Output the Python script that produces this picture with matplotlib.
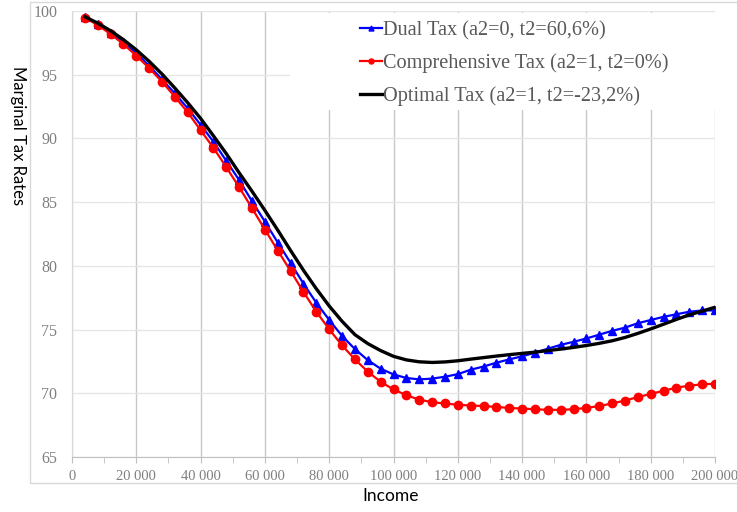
import matplotlib
matplotlib.use("Agg")
import matplotlib.pyplot as plt
from matplotlib.patches import Rectangle
from matplotlib.ticker import FuncFormatter, MultipleLocator

income = [4000, 8000, 12000, 16000, 20000, 24000, 28000, 32000, 36000, 40000,
          44000, 48000, 52000, 56000, 60000, 64000, 68000, 72000, 76000, 80000,
          84000, 88000, 92000, 96000, 100000, 104000, 108000, 112000, 116000, 120000,
          124000, 128000, 132000, 136000, 140000, 144000, 148000, 152000, 156000, 160000,
          164000, 168000, 172000, 176000, 180000, 184000, 188000, 192000, 196000, 200000]

dual_tax = [99.55, 98.98, 98.30, 97.54, 96.70, 95.70, 94.63, 93.53, 92.36, 91.07,
            89.74, 88.24, 86.73, 85.07, 83.47, 81.83, 80.23, 78.60, 77.10, 75.76,
            74.50, 73.47, 72.60, 71.93, 71.48, 71.20, 71.09, 71.15, 71.30, 71.50,
            71.85, 72.10, 72.40, 72.66, 72.90, 73.18, 73.50, 73.80, 74.04, 74.30,
            74.60, 74.90, 75.15, 75.50, 75.75, 76.00, 76.20, 76.40, 76.50, 76.50]

comprehensive_tax = [99.48, 98.90, 98.19, 97.40, 96.49, 95.52, 94.45, 93.27, 92.04, 90.65,
                     89.26, 87.74, 86.17, 84.52, 82.85, 81.20, 79.60, 77.95, 76.40, 75.02,
                     73.76, 72.66, 71.70, 70.90, 70.30, 69.85, 69.50, 69.30, 69.20, 69.10,
                     69.04, 69.00, 68.93, 68.85, 68.80, 68.75, 68.70, 68.70, 68.75, 68.85,
                     69.00, 69.20, 69.43, 69.70, 69.95, 70.20, 70.44, 70.60, 70.70, 70.75]

optimal_tax = [99.55, 99.05, 98.45, 97.75, 96.95, 96.05, 95.05, 93.95, 92.80, 91.57,
               90.20, 88.80, 87.30, 85.85, 84.35, 82.80, 81.20, 79.65, 78.20, 76.85,
               75.65, 74.60, 73.90, 73.35, 72.90, 72.62, 72.47, 72.42, 72.46, 72.55,
               72.68, 72.80, 72.92, 73.03, 73.13, 73.23, 73.35, 73.47, 73.60, 73.75,
               73.92, 74.12, 74.38, 74.70, 75.05, 75.42, 75.80, 76.15, 76.45, 76.75]

labels = ["Dual Tax (a2=0, t2=60,6%)",
          "Comprehensive Tax (a2=1, t2=0%)",
          "Optimal Tax (a2=1, t2=-23,2%)"]

W, H = 737, 512
fig = plt.figure(figsize=(W / 100, H / 100), dpi=100)
ax = fig.add_axes([72 / W, 1 - 457 / H, (715 - 72) / W, (457 - 11) / H])

# outer chart frame
fig.patches.append(Rectangle((30 / W, 1 - 483 / H), 1.0, (483 - 2) / H,
                             transform=fig.transFigure, fill=False,
                             edgecolor="#d9d9d9", linewidth=1.0))

ax.set_xlim(0, 200000)
ax.set_ylim(65, 100)
ax.xaxis.set_major_locator(MultipleLocator(20000))
ax.xaxis.set_minor_locator(MultipleLocator(10000))
ax.yaxis.set_major_locator(MultipleLocator(5))
ax.xaxis.set_major_formatter(FuncFormatter(lambda v, p: f"{int(v):,}".replace(",", " ")))
ax.set_axisbelow(True)
ax.grid(axis="x", which="major", color="#c8c8c8", linewidth=1.0)
ax.grid(axis="y", which="major", color="#e6e6e6", linewidth=1.0)

for s in ["top", "right"]:
    ax.spines[s].set_visible(False)
ax.spines["left"].set_color("#d9d9d9")
ax.spines["bottom"].set_color("#bfbfbf")
ax.tick_params(axis="y", length=0, pad=10.5, labelsize=11.5, labelcolor="#7f7f7f")
ax.tick_params(axis="x", which="major", length=4, color="#bfbfbf", pad=5,
               labelsize=10.5, labelcolor="#7f7f7f")
ax.tick_params(axis="x", which="minor", length=4, color="#bfbfbf")
for lab in ax.get_xticklabels() + ax.get_yticklabels():
    lab.set_fontfamily("Liberation Serif")

# white legend area covering the gridlines
ax.add_patch(Rectangle((67800, 92.2), 132700, 7.65, facecolor="white",
                       edgecolor="none", zorder=1, clip_on=False))

ax.plot(income, dual_tax, color="#0000ff", linewidth=1.6, marker="^",
        markersize=6, label=labels[0], zorder=3)
ax.plot(income, comprehensive_tax, color="#ff0000", linewidth=1.6, marker="o",
        markersize=6, label=labels[1], zorder=3)
ax.plot(income, optimal_tax, color="black", linewidth=2.4, label=labels[2], zorder=4)

leg = ax.legend(loc="upper left", bbox_to_anchor=(360 / W, 1 - 21 / H),
                bbox_transform=fig.transFigure, frameon=False,
                prop={"family": "Liberation Serif", "size": 14.6},
                handlelength=1.08, handletextpad=0.05, labelspacing=0.64,
                borderpad=0, borderaxespad=0, markerscale=0.6)
for t in leg.get_texts():
    t.set_color("#595959")

fig.text(18 / W, 1 - 136 / H, "Marginal Tax Rates", rotation=270, ha="center",
         va="center", fontsize=12, family="Lato", color="black")
fig.text(391 / W, 1 - 496 / H, "Income", ha="center", va="center", fontsize=12.5,
         family="Lato", color="black")

fig.savefig("out.png", dpi=100)
